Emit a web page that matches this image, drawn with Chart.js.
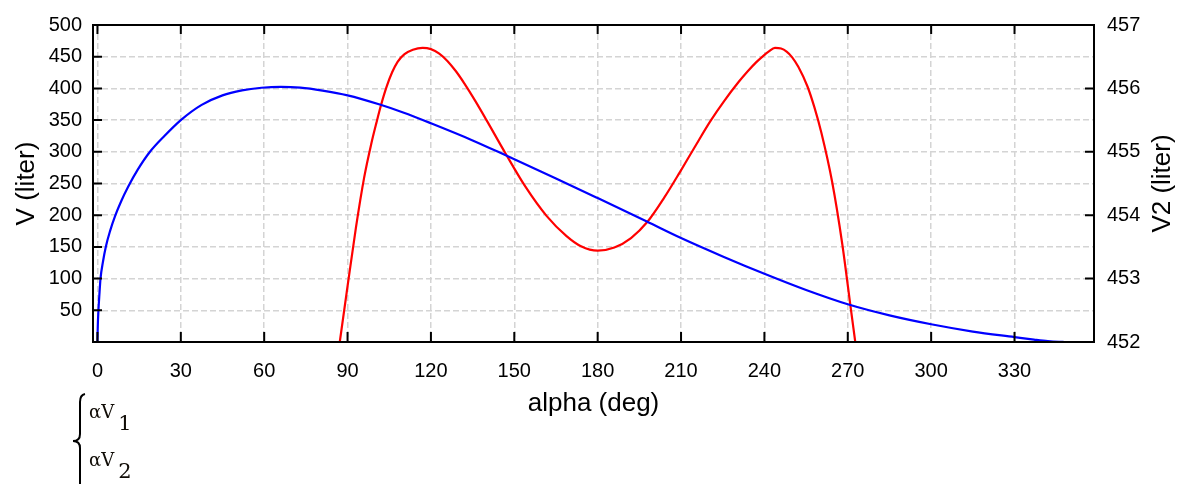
<!DOCTYPE html>
<html><head><meta charset="utf-8">
<script src="https://cdn.jsdelivr.net/npm/chart.js@4/dist/chart.umd.min.js"></script>
<style>
html,body{margin:0;padding:0;background:#fff;}
#wrap{position:relative;width:1179px;height:484px;overflow:hidden;background:#fff;}
#c{position:absolute;left:0;top:0;}
#brace{position:absolute;left:0;top:0;}
.leg{position:absolute;left:89px;font-family:"DejaVu Serif","Liberation Serif",serif;font-size:18px;line-height:18px;color:#100c06;white-space:nowrap;}
.leg .sub{font-size:21px;position:relative;top:12px;margin-left:4px;}
</style></head>
<body><div id="wrap">
<canvas id="c" width="1179" height="484"></canvas>
<svg id="brace" width="1179" height="484"><path d="M85,394 Q80,395 80,402 L80,434 Q80,441 73,441 Q80,441 80,448 L80,486" fill="none" stroke="#000" stroke-width="2"/></svg>
<div class="leg" style="top:402px">αV<span class="sub">1</span></div>
<div class="leg" style="top:450px">αV<span class="sub">2</span></div>
</div>
<script>
// ---- data ----
const xTickValues = [0, 30, 60, 90, 120, 150, 180, 210, 240, 270, 300, 330];
const yTickValues = [50, 100, 150, 200, 250, 300, 350, 400, 450, 500];
const y2TickValues = [452, 453, 454, 455, 456, 457];

const blueAlpha = [0, 0.12, 0.36, 0.7, 1.1, 2, 3, 4.5, 6.4, 8.5, 11, 14.5, 18.9, 24, 30, 37.5, 45, 52, 59, 66, 73, 81, 90, 101.6, 110, 120, 135, 146.9, 165, 180, 197.7, 210, 225, 240, 255, 270, 285, 300, 315, 330, 337, 342, 346, 348];
const blueV = [0, 25, 50, 75, 100, 127, 150, 174.5, 199.3, 221.7, 244.5, 271.8, 300, 324.5, 350, 374, 389, 396.8, 401, 402.5, 401.2, 396.5, 389, 374.5, 362, 345, 318, 294.5, 258, 227, 190, 164, 135, 107.6, 82, 59.5, 42, 28, 16.5, 7.8, 3.8, 1.3, 0.2, 0];

const redAlpha = [86, 87.2, 90, 93, 96, 98.5, 100.4, 102, 104, 106, 108, 110.5, 113.5, 117, 120, 123, 126, 129, 132, 136, 140, 146.9, 154, 161.6, 168.8, 174, 180, 186, 192, 198, 204, 209.6, 215, 220.5, 225.5, 230.7, 234, 237, 239.5, 241.5, 243.8, 246, 248, 250, 252.2, 255.5, 258, 260.5, 264.4, 268, 271.2, 273, 274.5];
const redV2 = [451.6, 452.0, 452.88, 453.8, 454.6, 455.12, 455.46, 455.73, 456.02, 456.25, 456.42, 456.54, 456.61, 456.64, 456.62, 456.55, 456.43, 456.27, 456.08, 455.8, 455.5, 454.97, 454.45, 453.99, 453.67, 453.51, 453.44, 453.49, 453.64, 453.9, 454.28, 454.68, 455.08, 455.48, 455.8, 456.1, 456.27, 456.41, 456.51, 456.58, 456.64, 456.63, 456.58, 456.49, 456.34, 456.03, 455.7, 455.3, 454.52, 453.55, 452.49, 451.9, 451.4];

const xTitle = 'alpha (deg)';
const yTitle = 'V (liter)';
const y2Title = 'V2 (liter)';

// ---- chart ----
const FONT = '"Liberation Sans", Arial, sans-serif';
const tickFont = {family: FONT, size: 20};
const titleFont = {family: FONT, size: 26};
const gridColor = '#d4d4d4';

const framePlugin = {
  id: 'frame',
  afterDraw(chart) {
    const {ctx, chartArea: a, scales} = chart;
    ctx.save();
    ctx.strokeStyle = '#000';
    ctx.lineWidth = 2;
    ctx.beginPath();
    scales.x.ticks.forEach(t => {
      const px = scales.x.getPixelForValue(t.value);
      ctx.moveTo(px, a.bottom); ctx.lineTo(px, a.bottom - 10);
      ctx.moveTo(px, a.top); ctx.lineTo(px, a.top + 9);
    });
    scales.y.ticks.forEach(t => {
      if (t.value >= 500) return;
      const py = scales.y.getPixelForValue(t.value);
      ctx.moveTo(a.left, py); ctx.lineTo(a.left + 9, py);
    });
    scales.y2.ticks.forEach(t => {
      if (t.value <= 452 || t.value >= 457) return;
      const py = scales.y2.getPixelForValue(t.value);
      ctx.moveTo(a.right, py); ctx.lineTo(a.right - 9, py);
    });
    ctx.stroke();
    ctx.strokeRect(a.left, a.top, a.right - a.left, a.bottom - a.top);
    ctx.fillStyle = '#000';
    ctx.font = '26px ' + FONT;
    ctx.textAlign = 'center';
    ctx.textBaseline = 'middle';
    ctx.translate(a.right + 69, (a.top + a.bottom) / 2);
    ctx.rotate(-Math.PI / 2);
    ctx.fillText(y2Title, 0, 0);
    ctx.restore();
  }
};

new Chart(document.getElementById('c'), {
  type: 'line',
  data: {
    datasets: [
      {
        label: 'αV1',
        data: blueAlpha.map((x, i) => ({x, y: blueV[i]})),
        yAxisID: 'y',
        borderColor: '#0000ff',
        borderWidth: 2.2,
        pointRadius: 0,
        cubicInterpolationMode: 'monotone',
        fill: false
      },
      {
        label: 'αV2',
        data: redAlpha.map((x, i) => ({x, y: redV2[i]})),
        yAxisID: 'y2',
        borderColor: '#ff0000',
        borderWidth: 2.2,
        pointRadius: 0,
        cubicInterpolationMode: 'monotone',
        fill: false
      }
    ]
  },
  options: {
    responsive: false,
    animation: false,
    devicePixelRatio: 1,
    layout: {padding: {top: 21, left: 0, right: 0, bottom: 65}},
    plugins: {legend: {display: false}, tooltip: {enabled: false}},
    scales: {
      x: {
        type: 'linear',
        min: -1.6,
        max: 358.6,
        afterBuildTicks: s => { s.ticks = xTickValues.map(v => ({value: v})); },
        afterFit: s => { s.height = 77; },
        grid: {color: gridColor, lineWidth: 1.5, drawTicks: false},
        border: {display: false, dash: [6, 3]},
        ticks: {padding: 17, color: '#000', font: tickFont, maxRotation: 0, autoSkip: false},
        title: {display: true, text: xTitle, color: '#000', font: titleFont, padding: {top: 0, bottom: 0}}
      },
      y: {
        type: 'linear',
        position: 'left',
        min: 0,
        max: 500,
        afterBuildTicks: s => { s.ticks = yTickValues.map(v => ({value: v})); },
        afterFit: s => { s.width = 93; },
        grid: {color: gridColor, lineWidth: 1.5, drawTicks: false},
        border: {display: false, dash: [6, 3]},
        ticks: {padding: 11, color: '#000', font: tickFont, autoSkip: false},
        title: {display: true, text: yTitle, color: '#000', font: titleFont, padding: {top: 11, bottom: 0}}
      },
      y2: {
        type: 'linear',
        position: 'right',
        min: 452,
        max: 457,
        afterBuildTicks: s => { s.ticks = y2TickValues.map(v => ({value: v})); },
        afterFit: s => { s.width = 85; },
        grid: {display: false, drawTicks: false},
        border: {display: false},
        ticks: {padding: 13, color: '#000', font: tickFont, autoSkip: false},
        title: {display: false}
      }
    }
  },
  plugins: [framePlugin]
});
</script>
</body></html>
